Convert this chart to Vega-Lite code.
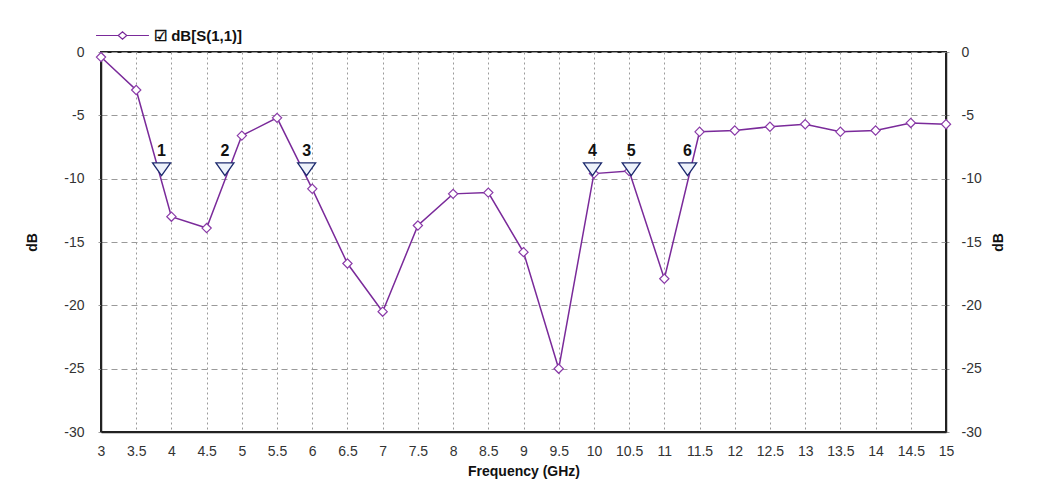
{
  "$schema": "https://vega.github.io/schema/vega-lite/v6.json",
  "autosize": "none",
  "width": 845,
  "height": 380,
  "padding": {"left": 101, "top": 52, "right": 91, "bottom": 51},
  "background": "white",
  "config": {
    "font": "Liberation Sans",
    "view": {"stroke": "#222222", "strokeWidth": 2},
    "axis": {"labelFont": "Liberation Sans", "labelFontSize": 14, "labelColor": "#333333", "titleFont": "Liberation Sans", "titleFontSize": 14, "titleFontWeight": "bold", "titleColor": "#111111", "domain": true, "domainColor": "#222222", "domainWidth": 1.5}
  },
  "datasets": {
    "s11": [
      {"freq": 3.0, "dB": -0.4},
      {"freq": 3.5, "dB": -3.0},
      {"freq": 4.0, "dB": -13.0},
      {"freq": 4.5, "dB": -13.9},
      {"freq": 5.0, "dB": -6.6},
      {"freq": 5.5, "dB": -5.2},
      {"freq": 6.0, "dB": -10.8},
      {"freq": 6.5, "dB": -16.7},
      {"freq": 7.0, "dB": -20.5},
      {"freq": 7.5, "dB": -13.7},
      {"freq": 8.0, "dB": -11.2},
      {"freq": 8.5, "dB": -11.1},
      {"freq": 9.0, "dB": -15.8},
      {"freq": 9.5, "dB": -25.0},
      {"freq": 10.0, "dB": -9.6},
      {"freq": 10.5, "dB": -9.4},
      {"freq": 11.0, "dB": -17.9},
      {"freq": 11.5, "dB": -6.3},
      {"freq": 12.0, "dB": -6.2},
      {"freq": 12.5, "dB": -5.9},
      {"freq": 13.0, "dB": -5.7},
      {"freq": 13.5, "dB": -6.3},
      {"freq": 14.0, "dB": -6.2},
      {"freq": 14.5, "dB": -5.6},
      {"freq": 15.0, "dB": -5.7}
    ],
    "markers": [
      {"id": "1", "freq": 3.86, "dB": -10},
      {"id": "2", "freq": 4.76, "dB": -10},
      {"id": "3", "freq": 5.92, "dB": -10},
      {"id": "4", "freq": 9.98, "dB": -10},
      {"id": "5", "freq": 10.53, "dB": -10},
      {"id": "6", "freq": 11.33, "dB": -10}
    ]
  },
  "resolve": {"scale": {"y": "independent"}},
  "layer": [
    {
      "data": {"name": "s11"},
      "mark": {"type": "line", "strokeWidth": 1.5},
      "encoding": {
        "x": {"field": "freq", "type": "quantitative",
          "scale": {"domain": [3, 15], "nice": false, "zero": false},
          "axis": {"title": "Frequency (GHz)", "values": [3,3.5,4,4.5,5,5.5,6,6.5,7,7.5,8,8.5,9,9.5,10,10.5,11,11.5,12,12.5,13,13.5,14,14.5,15], "labelExpr": "toString(datum.value)", "labelOverlap": false, "labelFlush": false, "tickSize": 0, "labelPadding": 12, "titlePadding": 6, "grid": true, "gridColor": "#9a9a9a", "gridDash": [2, 3], "gridWidth": 1}},
        "y": {"field": "dB", "type": "quantitative",
          "scale": {"domain": [-30, 0], "nice": false, "zero": false},
          "axis": {"orient": "left", "title": "dB", "values": [0,-5,-10,-15,-20,-25,-30], "labelExpr": "toString(datum.value)", "tickSize": 5, "tickColor": "#9a9a9a", "tickDash": [3, 2], "labelPadding": 12, "titlePadding": 24, "grid": true, "gridColor": "#9a9a9a", "gridDash": [6, 4], "gridWidth": 1}},
        "color": {"datum": "☑ dB[S(1,1)]", "type": "nominal",
          "scale": {"range": ["#7a2a9a"]},
          "legend": {"title": null, "orient": "none", "legendX": -6, "legendY": -44,
            "symbolType": "M-1,0L-0.16,0M0.16,0L1,0M-0.16,0L0,-0.14L0.16,0L0,0.14Z",
            "symbolSize": 2800, "symbolFillColor": "white", "symbolStrokeColor": "#9b4fb5", "symbolStrokeWidth": 1.2,
            "labelFont": "Liberation Sans", "labelFontSize": 15, "labelFontWeight": "bold", "labelColor": "#111111", "labelOffset": 4}}
      }
    },
    {
      "encoding": {
        "x": {"field": "freq", "type": "quantitative",
          "scale": {"domain": [3, 15], "nice": false, "zero": false},
          "axis": {"title": "Frequency (GHz)", "values": [3,3.5,4,4.5,5,5.5,6,6.5,7,7.5,8,8.5,9,9.5,10,10.5,11,11.5,12,12.5,13,13.5,14,14.5,15], "labelExpr": "toString(datum.value)", "labelOverlap": false, "labelFlush": false, "tickSize": 0, "labelPadding": 12, "titlePadding": 6, "grid": true, "gridColor": "#9a9a9a", "gridDash": [2, 3], "gridWidth": 1}},
        "y": {"field": "dB", "type": "quantitative",
          "scale": {"domain": [-30, 0], "nice": false, "zero": false},
          "axis": {"orient": "right", "title": "dB", "titleAngle": -90, "values": [0,-5,-10,-15,-20,-25,-30], "labelExpr": "toString(datum.value)", "tickSize": 5, "tickColor": "#9a9a9a", "tickDash": [3, 2], "labelPadding": 10, "titlePadding": 24, "grid": false}}
      },
      "layer": [
        {
          "data": {"name": "s11"},
          "mark": {"type": "point", "shape": "diamond", "size": 85, "filled": true, "fill": "white", "stroke": "#8a3aa8", "strokeWidth": 1.2, "opacity": 1}
        },
        {
          "data": {"name": "markers"},
          "mark": {"type": "point", "shape": "M-1,-1.75L1,-1.75L0,-0.35Z", "size": 324, "filled": true, "fill": "#eef3fb", "stroke": "#1c2a6e", "strokeWidth": 1.3, "opacity": 1}
        },
        {
          "data": {"name": "markers"},
          "mark": {"type": "text", "font": "Liberation Sans", "fontSize": 16, "fontWeight": "bold", "color": "#111111", "baseline": "middle", "dy": -28},
          "encoding": {"text": {"field": "id"}}
        }
      ]
    }
  ]
}
